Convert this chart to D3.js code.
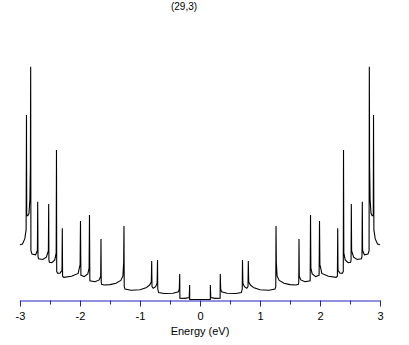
<!DOCTYPE html>
<html>
<head>
<meta charset="utf-8">
<script src="https://cdn.jsdelivr.net/npm/d3@7"></script>
<style>
  body { margin: 0; background: #fff; }
  svg { display: block; font-family: "Liberation Sans", Arial, sans-serif; }
</style>
</head>
<body>
<div id="chart"></div>
<script>
// density of states for the (29,3) tube (positive half, mirrored for E < 0)
const title = "(29,3)";
const xLabel = "Energy (eV)";
const xTicks = [-3, -2, -1, 0, 1, 2, 3];
const xMinorTicks = [-2.5, -1.5, -0.5, 0.5, 1.5, 2.5];

const energyPos = [
  0.000, 0.172, 0.172, 0.180, 0.250, 0.335,
  0.338, 0.345, 0.360, 0.450, 0.600, 0.690, 0.704,
  0.708, 0.715, 0.740, 0.780, 0.800,
  0.805, 0.812, 0.840, 0.900, 1.000, 1.150, 1.250, 1.263,
  1.267, 1.272, 1.285, 1.320, 1.400, 1.500, 1.600, 1.640, 1.646,
  1.650, 1.655, 1.680, 1.750, 1.836,
  1.842, 1.848, 1.870, 1.930, 1.985,
  1.992, 1.998, 2.012, 2.030, 2.140, 2.270, 2.290,
  2.295, 2.300, 2.330, 2.370, 2.388,
  2.392, 2.397, 2.420, 2.470, 2.510, 2.518,
  2.522, 2.527, 2.560, 2.620, 2.690, 2.700,
  2.705, 2.710, 2.740, 2.800, 2.818,
  2.822, 2.827, 2.835, 2.850, 2.870, 2.888,
  2.892, 2.898, 2.920, 2.960, 3.000
];
const dosPos = [
  0.00, 0.00, 0.62, 0.08, 0.05, 0.06,
  1.09, 0.45, 0.33, 0.27, 0.26, 0.30, 0.45,
  1.70, 0.70, 0.55, 0.48, 0.55,
  1.65, 0.75, 0.62, 0.50, 0.42, 0.40, 0.45, 0.55,
  3.15, 1.60, 1.00, 0.82, 0.70, 0.64, 0.62, 0.65, 0.75,
  2.60, 1.00, 0.84, 0.76, 0.80,
  3.63, 1.35, 1.10, 0.98, 1.05,
  3.37, 1.50, 1.35, 1.12, 1.00, 0.95, 1.00,
  3.06, 1.25, 1.14, 1.12, 1.20,
  6.42, 2.00, 1.70, 1.58, 1.60, 1.70,
  4.10, 2.10, 1.82, 1.72, 1.75, 1.85,
  4.20, 2.10, 1.92, 1.95, 2.10,
  9.99, 5.70, 4.30, 3.70, 3.60, 3.60,
  7.92, 3.00, 2.60, 2.38, 2.35
];

const width = 409, height = 345;
const axisY = 300.5;

// full curve: mirror the positive half onto negative energies
const points = [];
for (let i = energyPos.length - 1; i > 0; i--) points.push([-energyPos[i], dosPos[i]]);
for (let i = 0; i < energyPos.length; i++) points.push([energyPos[i], dosPos[i]]);

const svg = d3.select("#chart").append("svg")
  .attr("width", width)
  .attr("height", height);

svg.append("rect").attr("width", width).attr("height", height).attr("fill", "#fff");

const x = d3.scaleLinear().domain([-3, 3]).range([20, 380]);
const y = d3.scaleLinear().domain([0, 10]).range([299.5, 66.5]);

const line = d3.line()
  .x(d => x(d[0]))
  .y(d => y(d[1]));

svg.append("path")
  .datum(points)
  .attr("fill", "none")
  .attr("stroke", "#000")
  .attr("stroke-width", 1.1)
  .attr("d", line);

// minor ticks
svg.append("g")
  .attr("transform", "translate(0," + axisY + ")")
  .call(d3.axisBottom(x).tickValues(xMinorTicks).tickSize(4).tickSizeOuter(0).tickFormat(""))
  .call(g => g.select(".domain").remove())
  .call(g => g.selectAll("line").attr("stroke", "#2222bb"));

// major ticks + labels
const xAxis = svg.append("g")
  .attr("transform", "translate(0," + axisY + ")")
  .call(d3.axisBottom(x).tickValues(xTicks).tickSize(6).tickSizeOuter(0).tickPadding(6)
    .tickFormat(d => String(d)));

xAxis.select(".domain").attr("stroke", "#2222bb").attr("stroke-width", 1.2);
xAxis.selectAll("line").attr("stroke", "#2222bb");
xAxis.selectAll("text")
  .attr("fill", "#000")
  .style("font-size", "11px")
  .style("font-family", "Liberation Sans, Arial, sans-serif");

svg.append("text")
  .attr("x", 200)
  .attr("y", 335)
  .attr("text-anchor", "middle")
  .style("font-size", "11px")
  .text(xLabel);

svg.append("text")
  .attr("x", 184)
  .attr("y", 10)
  .attr("text-anchor", "middle")
  .style("font-size", "10px")
  .text(title);
</script>
</body>
</html>
